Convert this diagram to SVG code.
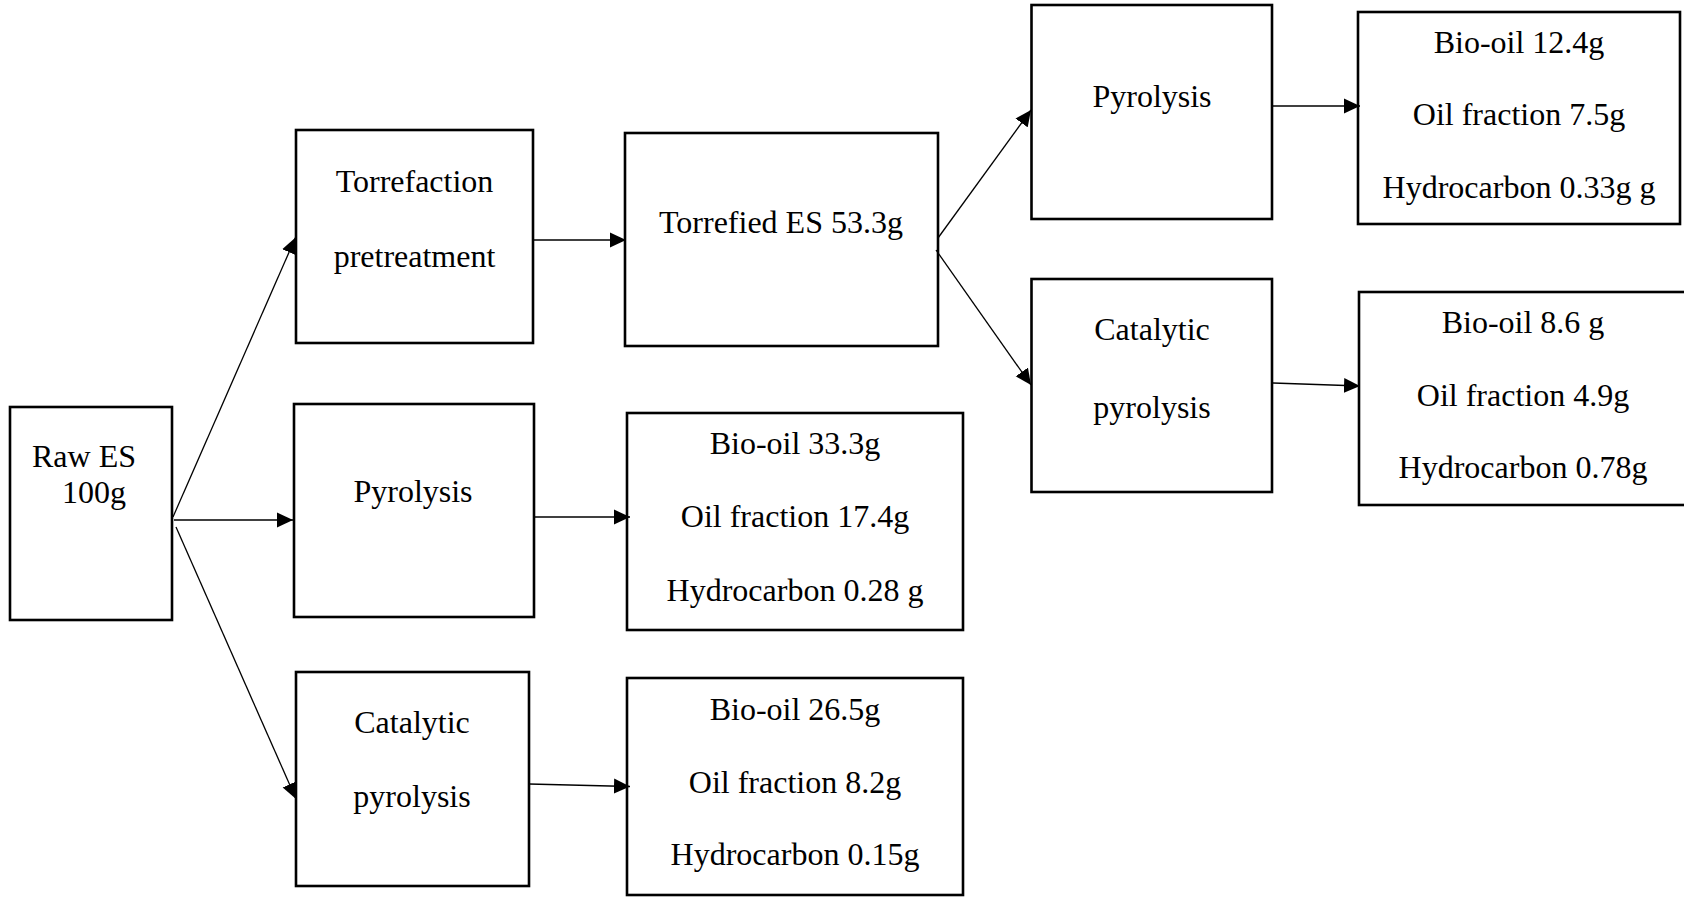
<svg xmlns="http://www.w3.org/2000/svg" width="1684" height="898" viewBox="0 0 1684 898">
  <defs>
    <style>
      .box { fill: #ffffff; stroke: #000000; stroke-width: 2.6; }
      .lbl { font-family: "Liberation Serif", "Times New Roman", serif; font-size: 32px; fill: #000000; text-anchor: middle; }
      .edge { fill: none; stroke: #000000; stroke-width: 1.3; marker-end: url(#head); }
    </style>
    <marker id="head" markerUnits="userSpaceOnUse" markerWidth="17" markerHeight="16" viewBox="0 -8 17 16" refX="16" refY="0" orient="auto">
      <path d="M0,-7.5 L16,0 L0,7.5 z" fill="#000000"/>
    </marker>
  </defs>
  <rect width="1684" height="898" fill="#ffffff"/>

  <!-- feedstock -->
  <g id="raw-es">
    <rect class="box" x="10" y="407" width="162" height="213"/>
    <text class="lbl" style="text-anchor:start" x="32" y="467">Raw ES</text>
    <text class="lbl" style="text-anchor:start" x="62" y="503">100g</text>
  </g>

  <!-- first-stage treatments -->
  <g id="torrefaction">
    <rect class="box" x="296" y="130" width="237" height="213"/>
    <text class="lbl" x="414.5" y="192">Torrefaction</text>
    <text class="lbl" x="414.5" y="267">pretreatment</text>
  </g>
  <g id="pyrolysis-raw">
    <rect class="box" x="294" y="404" width="240" height="213"/>
    <text class="lbl" x="413" y="502">Pyrolysis</text>
  </g>
  <g id="catalytic-raw">
    <rect class="box" x="296" y="672" width="233" height="214"/>
    <text class="lbl" x="412" y="733">Catalytic</text>
    <text class="lbl" x="412" y="807">pyrolysis</text>
  </g>

  <!-- torrefied intermediate -->
  <g id="torrefied-es">
    <rect class="box" x="625" y="133" width="313" height="213"/>
    <text class="lbl" x="781" y="233">Torrefied ES 53.3g</text>
  </g>

  <!-- products from raw ES -->
  <g id="products-pyrolysis-raw">
    <rect class="box" x="627" y="413" width="336" height="217"/>
    <text class="lbl" x="795" y="454">Bio-oil 33.3g</text>
    <text class="lbl" x="795" y="527">Oil fraction 17.4g</text>
    <text class="lbl" x="795" y="601">Hydrocarbon 0.28 g</text>
  </g>
  <g id="products-catalytic-raw">
    <rect class="box" x="627" y="678" width="336" height="217"/>
    <text class="lbl" x="795" y="720">Bio-oil 26.5g</text>
    <text class="lbl" x="795" y="793">Oil fraction 8.2g</text>
    <text class="lbl" x="795" y="865">Hydrocarbon 0.15g</text>
  </g>

  <!-- second-stage treatments of torrefied ES -->
  <g id="pyrolysis-torrefied">
    <rect class="box" x="1031.5" y="5" width="240.5" height="214"/>
    <text class="lbl" x="1152" y="107">Pyrolysis</text>
  </g>
  <g id="catalytic-torrefied">
    <rect class="box" x="1031.5" y="279" width="240.5" height="213"/>
    <text class="lbl" x="1152" y="340">Catalytic</text>
    <text class="lbl" x="1152" y="418">pyrolysis</text>
  </g>

  <!-- products from torrefied ES -->
  <g id="products-pyrolysis-torrefied">
    <rect class="box" x="1358" y="12" width="322" height="212"/>
    <text class="lbl" x="1519" y="53">Bio-oil 12.4g</text>
    <text class="lbl" x="1519" y="125">Oil fraction 7.5g</text>
    <text class="lbl" x="1519" y="198">Hydrocarbon 0.33g g</text>
  </g>
  <g id="products-catalytic-torrefied">
    <rect class="box" x="1359" y="292" width="328" height="213"/>
    <text class="lbl" x="1523" y="333">Bio-oil 8.6 g</text>
    <text class="lbl" x="1523" y="406">Oil fraction 4.9g</text>
    <text class="lbl" x="1523" y="478">Hydrocarbon 0.78g</text>
  </g>

  <!-- connectors -->
  <g id="connectors">
    <line class="edge" x1="173" y1="517" x2="295.5" y2="237.5"/>
    <line class="edge" x1="174" y1="520" x2="293" y2="520"/>
    <line class="edge" x1="176" y1="527" x2="296" y2="799"/>
    <line class="edge" x1="533" y1="240" x2="626" y2="240"/>
    <line class="edge" x1="938" y1="238" x2="1031" y2="110"/>
    <line class="edge" x1="936" y1="250" x2="1031" y2="385"/>
    <line class="edge" x1="1273" y1="106" x2="1360" y2="106"/>
    <line class="edge" x1="1273" y1="383" x2="1360" y2="386"/>
    <line class="edge" x1="534" y1="517" x2="630" y2="517"/>
    <line class="edge" x1="529" y1="784" x2="630" y2="786.5"/>
  </g>
</svg>
